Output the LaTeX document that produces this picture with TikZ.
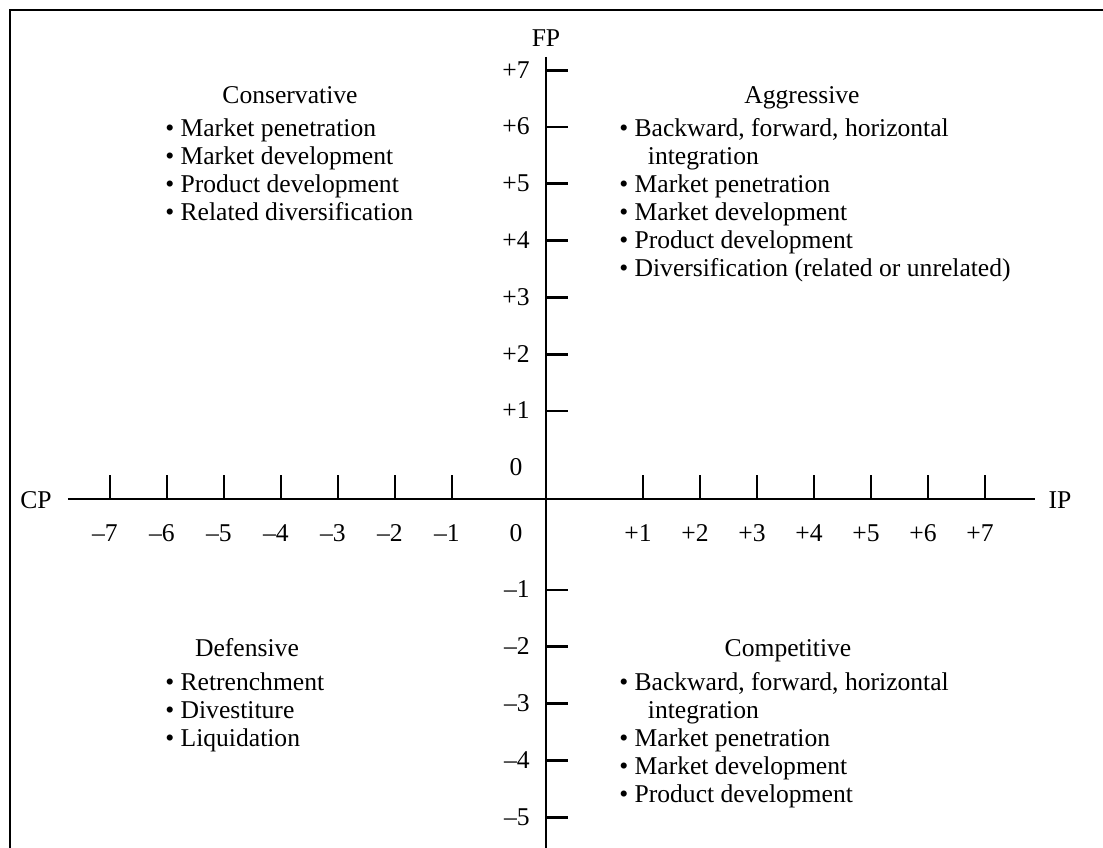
\documentclass[tikz,border=0pt]{standalone}
\usepackage{fontspec}
\setmainfont{Liberation Serif}

\tikzset{
  lbl/.style={font=\fontsize{19.2}{21}\selectfont, inner sep=0pt},
  ticklbl/.style={lbl, anchor=base},
  quadtitle/.style={lbl, anchor=base},
  quadlist/.style={lbl, anchor=base west, align=left},
  axisline/.style={line width=2.2pt},
}

\begin{document}
\begin{tikzpicture}[x=0.75pt, y=0.75pt]
  \useasboundingbox (-546,-349) rectangle (557,499);
  % frame (left and top edges only)
  \draw[line width=1.4pt] (-536,-349) -- (-536,489) -- (557,489);

  % axes
  \node[lbl] (cp) at (-510,-1) {CP};
  \node[lbl] (ip) at (514,-1) {IP};
  \node[lbl] (fp) at (0,461) {FP};
  \coordinate (xl) at (-478,0);
  \coordinate (xr) at (489,0);
  \coordinate (yt) at (0,442);
  \coordinate (yb) at (0,-349);
  \draw[axisline] (xl) -- (xr);
  \draw[axisline] (yt) -- (yb);

  % ticks and their labels
  \foreach \k in {1,...,7} {
    \pgfmathsetmacro{\xn}{-94-57.0*(\k-1)}
    \pgfmathsetmacro{\xp}{97+57.0*(\k-1)}
    \pgfmathsetmacro{\yp}{88+56.8*(\k-1)}
    \draw[axisline] (\xn,0) -- ++(0,24);
    \draw[axisline] (\xp,0) -- ++(0,24);
    \draw[axisline] (0,\yp) -- ++(22,0);
    \node[ticklbl] (xn\k) at (\xn-5,-43) {--\k};
    \node[ticklbl] (xp\k) at (\xp-5,-43) {+\k};
    \node[lbl, anchor=base east] (yp\k) at (-16,\yp-8) {+\k};
  }
  \foreach \k in {1,...,5} {
    \pgfmathsetmacro{\yn}{-91-56.8*(\k-1)}
    \draw[axisline] (0,\yn) -- ++(22,0);
    \node[lbl, anchor=base east] (yn\k) at (-16,\yn-8) {--\k};
  }
  \node[ticklbl] (zeroy) at (-30,23) {0};
  \node[ticklbl] (zerox) at (-30,-43) {0};

  % quadrants (lists are placed by the baseline of their last line)
  \node[quadtitle] (cons) at (-256,395) {Conservative};
  \node[quadlist] (consl) at (-381,278) {\textbullet\ Market penetration\\
    \textbullet\ Market development\\
    \textbullet\ Product development\\
    \textbullet\ Related diversification};

  \node[quadtitle] (aggr) at (256,395) {Aggressive};
  \node[quadlist] (aggrl) at (73,222) {\textbullet\ Backward, forward, horizontal\\
    \phantom{\textbullet\ }\hspace{10pt}integration\\
    \textbullet\ Market penetration\\
    \textbullet\ Market development\\
    \textbullet\ Product development\\
    \textbullet\ Diversification (related or unrelated)};

  \node[quadtitle] (defn) at (-299,-158) {Defensive};
  \node[quadlist] (defnl) at (-381,-248) {\textbullet\ Retrenchment\\
    \textbullet\ Divestiture\\
    \textbullet\ Liquidation};

  \node[quadtitle] (comp) at (242,-158) {Competitive};
  \node[quadlist] (compl) at (73,-304) {\textbullet\ Backward, forward, horizontal\\
    \phantom{\textbullet\ }\hspace{10pt}integration\\
    \textbullet\ Market penetration\\
    \textbullet\ Market development\\
    \textbullet\ Product development};
\end{tikzpicture}
\end{document}
